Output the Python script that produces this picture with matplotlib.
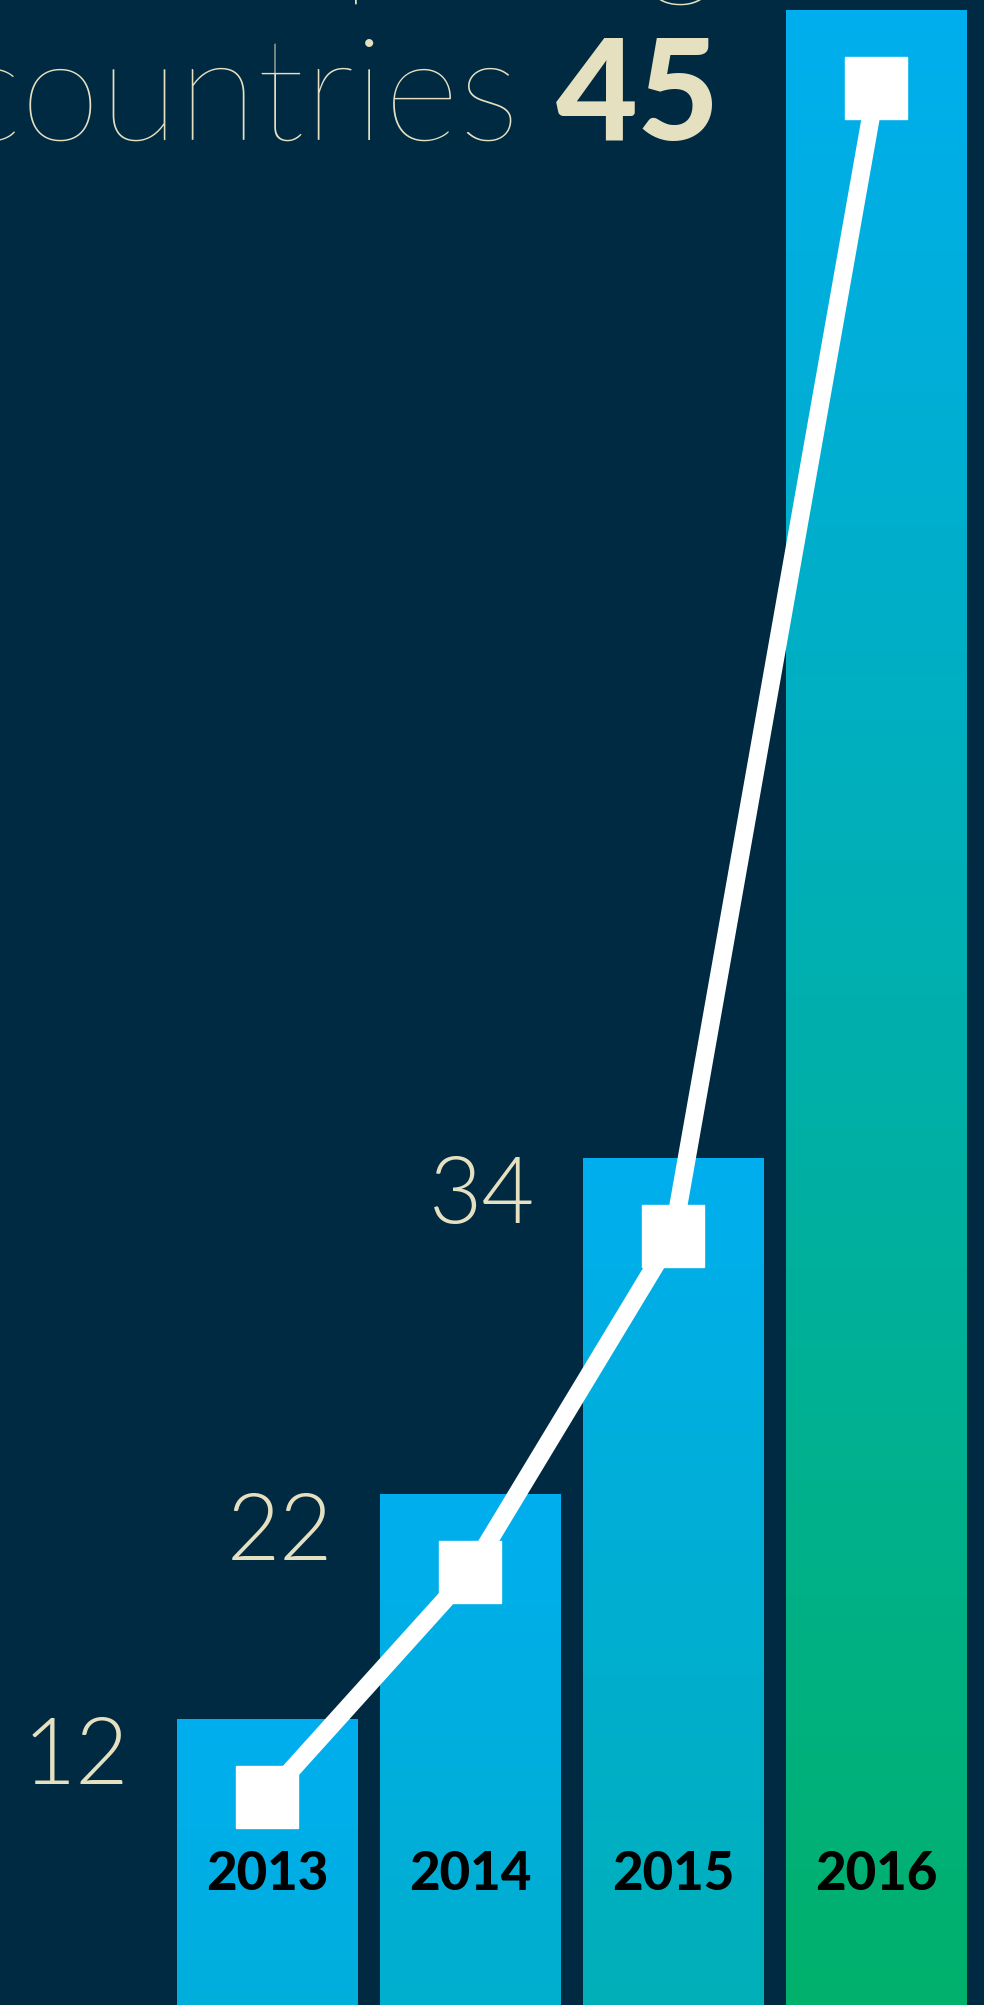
import numpy as np
import matplotlib
matplotlib.use("Agg")
import matplotlib.pyplot as plt
from matplotlib.transforms import ScaledTranslation
from matplotlib.colors import LinearSegmentedColormap

years = ["2013", "2014", "2015", "2016"]
countries = [12, 22, 34, 45]

# the infographic's value axis is not linear: knots of value -> pixel height
scale_vals = [0, 12, 22, 34, 45, 46]
scale_pos = [0, 286, 511, 847, 1995, 2100]

bg = "#002942"
cream = "#E4E0C0"
thin_font = ["Lato", "DejaVu Sans"]


def fwd(v):
    return np.interp(v, scale_vals, scale_pos)


def inv(p):
    return np.interp(p, scale_pos, scale_vals)


W, H = 984, 2005
fig = plt.figure(figsize=(W / 100, H / 100), dpi=100, facecolor=bg)
ax = fig.add_axes([0, 0, 1, 1])
ax.set_facecolor(bg)
ax.set_yscale("function", functions=(fwd, inv))
x = np.arange(len(years))
pitch = 203
ax.set_xlim(-267 / pitch, (W - 267) / pitch)
ax.set_ylim(0, inv(H))
ax.axis("off")

cmap = LinearSegmentedColormap.from_list("bars", ["#00AEEF", "#00B16B"])
grad = np.linspace(0, 1, 256).reshape(-1, 1)

bars = ax.bar(x, countries, width=181 / pitch, color="none", linewidth=0)
to_axes = ax.transData + ax.transAxes.inverted()
for b, v in zip(bars, countries):
    (x0, ytop) = to_axes.transform((b.get_x(), v))
    (x1, _) = to_axes.transform((b.get_x() + b.get_width(), v))
    im = ax.imshow(grad, cmap=cmap, aspect="auto", transform=ax.transAxes,
                   extent=(x0, x1, ytop - 2000 / H, ytop), zorder=1)
    im.set_clip_path(b)
ax.set_xlim(-267 / pitch, (W - 267) / pitch)
ax.set_ylim(0, inv(H))

# line sits a little below the top of each bar
shift = ax.transData + ScaledTranslation(0, -0.78, fig.dpi_scale_trans)
ax.plot(x, countries, color="white", lw=13, marker="s", ms=45,
        solid_joinstyle="miter", transform=shift, zorder=3)

# value labels left of each bar
for b, v in zip(bars[:-1], countries[:-1]):
    ax.annotate(str(v), (b.get_x(), v), xytext=(-47, 2), textcoords="offset pixels",
                ha="right", va="top", fontsize=66, color=cream,
                family=thin_font, fontweight=300, zorder=4)

# headline for the last year
ax.annotate(str(countries[-1]), (bars[-1].get_x(), countries[-1]), xytext=(-230, -130),
            textcoords="offset pixels", ha="left", va="baseline", fontsize=102,
            color=cream, family=["Lato", "DejaVu Sans"], fontweight=900, zorder=4)
fig.text(519 / W, 1 - 140 / H, "countries", ha="right", va="baseline", fontsize=104,
         color=cream, family=thin_font, fontweight=100)
fig.text(718 / W, 1 + 22 / H, "participating", ha="right", va="baseline", fontsize=104,
         color=cream, family=thin_font, fontweight=100)

# year labels inside the bars
for xi, yr in zip(x, years):
    ax.text(xi, 0, yr, transform=ax.get_xaxis_transform() + ScaledTranslation(0, 1.3, fig.dpi_scale_trans),
            ha="center", va="center", fontsize=38, color="black",
            family=["Lato", "DejaVu Sans"], fontweight=900, zorder=4)

fig.savefig("out.png", dpi=100, facecolor=bg)
